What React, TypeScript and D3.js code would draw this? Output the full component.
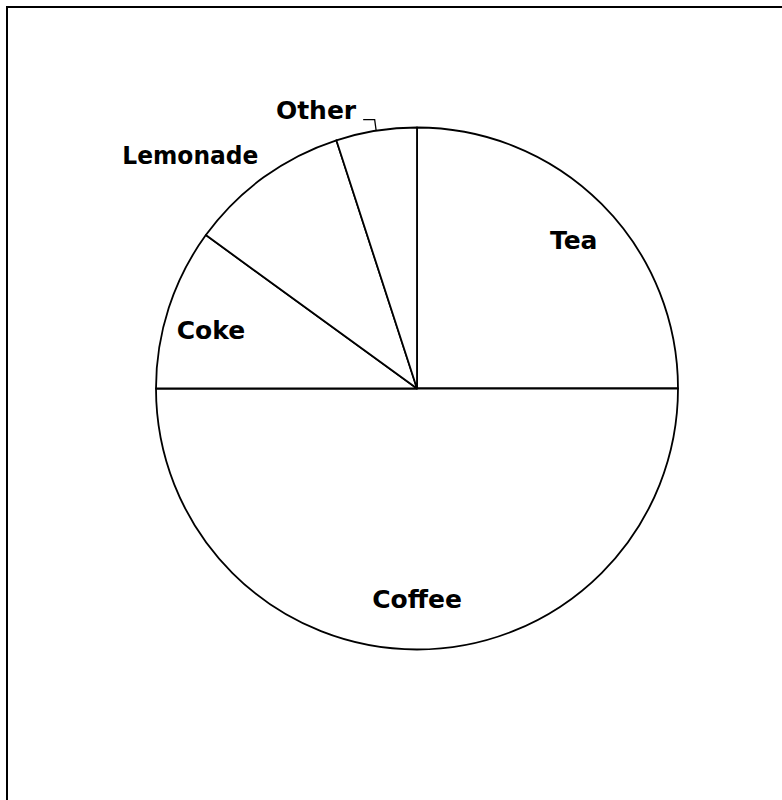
import React from "react";
import * as d3 from "d3";

const categories = ["Tea", "Coffee", "Coke", "Lemonade", "Other"];
const values = [25, 50, 10, 10, 5];
// label placement mode per category: inside, outside (near rim), leader (with leader line)
const placement = ["inside", "inside", "inside", "outside", "leader"];

const W = 782;
const H = 800;
const cx = 417;
const cy = 388.5;
const R = 261;
const FONT = "'Comic Sans MS', 'DejaVu Sans', sans-serif";

export default function App() {
  const pie = d3
    .pie<number>()
    .sort(null)
    .value((d) => d)
    .startAngle(0)
    .endAngle(2 * Math.PI);
  const arcs = pie(values);
  const arcGen = d3.arc<d3.PieArcDatum<number>>().innerRadius(0).outerRadius(R);
  const labelArc = d3
    .arc<d3.PieArcDatum<number>>()
    .innerRadius(R * 0.83)
    .outerRadius(R * 0.83);

  const polar = (angle: number, r: number): [number, number] => [
    Math.sin(angle) * r,
    -Math.cos(angle) * r,
  ];

  return (
    <svg
      width={W}
      height={H}
      style={{ position: "absolute", left: 0, top: 0, display: "block", background: "#fff" }}
    >
      <rect x={0} y={0} width={W} height={H} fill="#fff" />
      <rect x={7} y={7} width={1200} height={1200} fill="none" stroke="#000" strokeWidth={2} />
      <g transform={`translate(${cx},${cy})`}>
        {arcs.map((a, i) => (
          <path
            key={categories[i]}
            d={arcGen(a) || ""}
            fill="#fff"
            stroke="#000"
            strokeWidth={1.8}
            strokeLinejoin="round"
          />
        ))}
        {arcs.map((a, i) => {
          const mid = (a.startAngle + a.endAngle) / 2;
          const mode = placement[i];
          if (mode === "inside") {
            const [x, y] = labelArc.centroid(a);
            const dy = 14 + Math.max(0, -Math.sin(mid)) * 3.5 - Math.max(0, -Math.cos(mid)) * 11;
            const dx = Math.max(0, Math.sin(mid)) * 5;
            return (
              <text
                key={"l" + i}
                x={x + dx}
                y={y + dy}
                textAnchor="middle"
                fontFamily={FONT}
                fontWeight="bold"
                fontSize={25}
              >
                {categories[i]}
              </text>
            );
          }
          if (mode === "outside") {
            const [x, y] = polar(mid, R + 9);
            return (
              <text
                key={"l" + i}
                x={x}
                y={y - 6}
                textAnchor="end"
                fontFamily={FONT}
                fontWeight="bold"
                fontSize={25}
                textLength={136}
                lengthAdjust="spacingAndGlyphs"
              >
                {categories[i]}
              </text>
            );
          }
          const [px, py] = polar(mid, R);
          const ly = py - 11;
          const lx = px - 13;
          return (
            <g key={"l" + i}>
              <path
                d={`M${px},${py}L${px - 1.5},${ly}L${lx},${ly}`}
                fill="none"
                stroke="#000"
                strokeWidth={1.3}
              />
              <text
                x={lx - 7}
                y={ly - 1}
                textAnchor="end"
                fontFamily={FONT}
                fontWeight="bold"
                fontSize={25}
              >
                {categories[i]}
              </text>
            </g>
          );
        })}
      </g>
    </svg>
  );
}
